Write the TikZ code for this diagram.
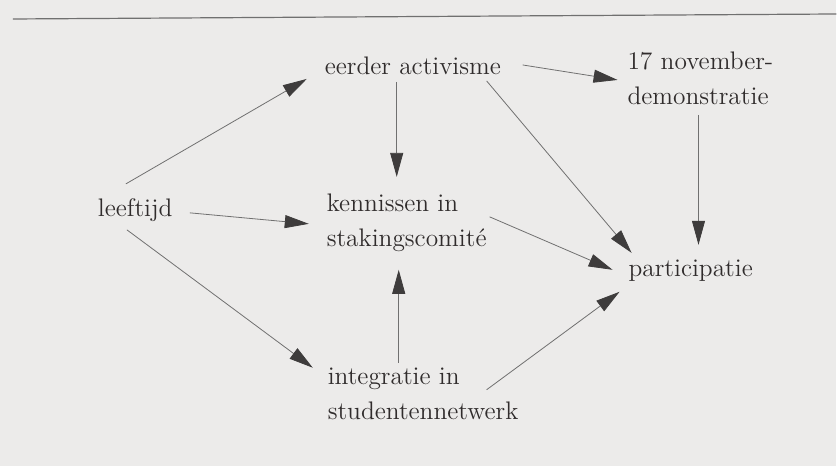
\documentclass[tikz,border=0pt]{standalone}
\usepackage{tikz}
\usetikzlibrary{arrows.meta}

\definecolor{pagebg}{RGB}{236,235,234}
\definecolor{ink}{RGB}{48,44,44}
\definecolor{linegray}{RGB}{112,112,112}
\definecolor{tipgray}{RGB}{62,60,60}

\tikzset{
  lbl/.style={anchor=base west, inner sep=0pt, outer sep=0pt, align=left, text=ink,
    font=\fontsize{12.7}{17.5}\selectfont},
  arr/.style={draw=linegray, line width=0.4pt, -{Triangle[length=12pt,width=6.5pt,color=tipgray]}}
}

\begin{document}
\begin{tikzpicture}[x=0.5pt,y=-0.5pt]
\fill[pagebg] (0,0) rectangle (837,466);
\draw[linegray, line width=0.6pt] (13,19) -- (837,14);

\node[lbl] (leeftijd) at (98,217) {leeftijd};
\node[lbl] (activisme) at (325,75) {eerder activisme};
\node[lbl] (kennissen) at (327,247) {kennissen in\\stakingscomité};
\node[lbl] (integratie) at (328,420) {integratie in\\studentennetwerk};
\node[lbl] (demonstratie) at (628,105) {17 november-\\demonstratie};
\node[lbl] (participatie) at (629,277) {participatie};

\draw[arr] ([shift={(28,-33)}]leeftijd.base west) -- ([shift={(-18,4)}]activisme.base west);
\draw[arr] ([shift={(92,-4)}]leeftijd.base west) -- ([shift={(-18,-23)}]kennissen.base west);
\draw[arr] ([shift={(29,13)}]leeftijd.base west) -- ([shift={(-15,-52)}]integratie.base west);
\draw[arr] ([shift={(72,7)}]activisme.base west) -- ([shift={(70,-70)}]kennissen.base west);
\draw[arr] ([shift={(198,-10)}]activisme.base west) -- ([shift={(-10,-25)}]demonstratie.base west);
\draw[arr] ([shift={(162,6)}]activisme.base west) -- ([shift={(3,-24)}]participatie.base west);
\draw[arr] ([shift={(163,-30)}]kennissen.base west) -- ([shift={(-16,-7)}]participatie.base west);
\draw[arr] ([shift={(71,-57)}]integratie.base west) -- ([shift={(72,23)}]kennissen.base west);
\draw[arr] ([shift={(159,-30)}]integratie.base west) -- ([shift={(-9,15)}]participatie.base west);
\draw[arr] ([shift={(71,10)}]demonstratie.base west) -- ([shift={(70,-32)}]participatie.base west);
\end{tikzpicture}
\end{document}
